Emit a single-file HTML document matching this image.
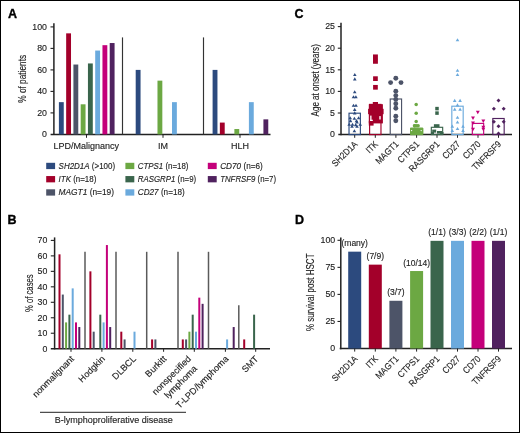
<!DOCTYPE html>
<html><head><meta charset="utf-8"><style>
html,body{margin:0;padding:0;background:#fff;}
svg{display:block;will-change:transform;}
text{font-family:"Liberation Sans", sans-serif;stroke:#1e1e1e;stroke-width:0.14px;}
</style></head><body>
<svg width="520" height="433" viewBox="0 0 520 433">
<rect x="0" y="0" width="520" height="433" fill="#fff"/>
<rect x="0.5" y="0.5" width="519" height="432" fill="none" stroke="#000" stroke-width="1"/>
<text x="7.90" y="18.30" font-size="12.5" font-weight="bold" fill="#000" style="stroke:#000;stroke-width:0.35px">A</text>
<line x1="53.90" y1="23.30" x2="53.90" y2="135.10" stroke="#222" stroke-width="1.5"/>
<line x1="50.60" y1="134.40" x2="270.50" y2="134.40" stroke="#222" stroke-width="1.5"/>
<text x="47.00" y="137.20" font-size="9.5" text-anchor="end" textLength="4.90" lengthAdjust="spacingAndGlyphs" fill="#1e1e1e">0</text>
<line x1="50.50" y1="112.90" x2="54.00" y2="112.90" stroke="#222" stroke-width="1.1"/>
<text x="47.00" y="115.70" font-size="9.5" text-anchor="end" textLength="9.80" lengthAdjust="spacingAndGlyphs" fill="#1e1e1e">20</text>
<line x1="50.50" y1="91.40" x2="54.00" y2="91.40" stroke="#222" stroke-width="1.1"/>
<text x="47.00" y="94.20" font-size="9.5" text-anchor="end" textLength="9.80" lengthAdjust="spacingAndGlyphs" fill="#1e1e1e">40</text>
<line x1="50.50" y1="69.90" x2="54.00" y2="69.90" stroke="#222" stroke-width="1.1"/>
<text x="47.00" y="72.70" font-size="9.5" text-anchor="end" textLength="9.80" lengthAdjust="spacingAndGlyphs" fill="#1e1e1e">60</text>
<line x1="50.50" y1="48.40" x2="54.00" y2="48.40" stroke="#222" stroke-width="1.1"/>
<text x="47.00" y="51.20" font-size="9.5" text-anchor="end" textLength="9.80" lengthAdjust="spacingAndGlyphs" fill="#1e1e1e">80</text>
<line x1="50.50" y1="26.90" x2="54.00" y2="26.90" stroke="#222" stroke-width="1.1"/>
<text x="47.00" y="29.70" font-size="9.5" text-anchor="end" textLength="14.70" lengthAdjust="spacingAndGlyphs" fill="#1e1e1e">100</text>
<rect x="58.90" y="102.15" width="4.85" height="32.25" fill="#2C4A7E"/>
<rect x="66.16" y="33.35" width="4.85" height="101.05" fill="#A3002A"/>
<rect x="73.42" y="64.53" width="4.85" height="69.88" fill="#4D5468"/>
<rect x="80.68" y="104.30" width="4.85" height="30.10" fill="#6CA843"/>
<rect x="87.94" y="63.45" width="4.85" height="70.95" fill="#3A654C"/>
<rect x="95.20" y="50.55" width="4.85" height="83.85" fill="#6BAADD"/>
<rect x="102.46" y="45.18" width="4.85" height="89.22" fill="#C4007A"/>
<rect x="109.72" y="43.03" width="4.85" height="91.38" fill="#50225F"/>
<rect x="135.70" y="69.90" width="4.85" height="64.50" fill="#2C4A7E"/>
<rect x="157.48" y="80.65" width="4.85" height="53.75" fill="#6CA843"/>
<rect x="172.00" y="102.15" width="4.85" height="32.25" fill="#6BAADD"/>
<rect x="212.60" y="69.90" width="4.85" height="64.50" fill="#2C4A7E"/>
<rect x="219.86" y="122.58" width="4.85" height="11.83" fill="#A3002A"/>
<rect x="234.38" y="129.03" width="4.85" height="5.38" fill="#6CA843"/>
<rect x="248.90" y="102.15" width="4.85" height="32.25" fill="#6BAADD"/>
<rect x="263.42" y="119.35" width="4.85" height="15.05" fill="#50225F"/>
<line x1="122.50" y1="37.40" x2="122.50" y2="134.40" stroke="#333" stroke-width="1.15"/>
<line x1="203.50" y1="37.40" x2="203.50" y2="134.40" stroke="#333" stroke-width="1.15"/>
<line x1="86.50" y1="134.40" x2="86.50" y2="137.80" stroke="#222" stroke-width="1"/>
<line x1="163.00" y1="134.40" x2="163.00" y2="137.80" stroke="#222" stroke-width="1"/>
<line x1="240.00" y1="134.40" x2="240.00" y2="137.80" stroke="#222" stroke-width="1"/>
<text x="86.20" y="148.90" font-size="9" text-anchor="middle" fill="#1e1e1e" >LPD/Malignancy</text>
<text x="163.00" y="148.90" font-size="9" text-anchor="middle" fill="#1e1e1e" >IM</text>
<text x="240.00" y="148.90" font-size="9" text-anchor="middle" fill="#1e1e1e" >HLH</text>
<text font-size="10.5" text-anchor="middle" textLength="47.9" lengthAdjust="spacingAndGlyphs" fill="#1e1e1e" transform="translate(25.90,78.85) rotate(-90)" x="0" y="0">% of patients</text>
<rect x="46.20" y="162.80" width="8.90" height="6.30" fill="#2C4A7E"/>
<text x="58.60" y="168.55" font-size="9" fill="#1e1e1e" textLength="56.5" lengthAdjust="spacingAndGlyphs"><tspan font-style="italic">SH2D1A</tspan> (&gt;100)</text>
<rect x="46.20" y="176.05" width="8.90" height="6.30" fill="#A3002A"/>
<text x="58.60" y="181.80" font-size="9" fill="#1e1e1e" textLength="37.7" lengthAdjust="spacingAndGlyphs"><tspan font-style="italic">ITK</tspan> (n=18)</text>
<rect x="46.20" y="189.30" width="8.90" height="6.30" fill="#4D5468"/>
<text x="58.60" y="195.05" font-size="9" fill="#1e1e1e" textLength="55.4" lengthAdjust="spacingAndGlyphs"><tspan font-style="italic">MAGT1</tspan> (n=19)</text>
<rect x="125.40" y="162.80" width="8.90" height="6.30" fill="#6CA843"/>
<text x="137.80" y="168.55" font-size="9" fill="#1e1e1e" textLength="50.7" lengthAdjust="spacingAndGlyphs"><tspan font-style="italic">CTPS1</tspan> (n=18)</text>
<rect x="125.40" y="176.05" width="8.90" height="6.30" fill="#3A654C"/>
<text x="137.80" y="181.80" font-size="9" fill="#1e1e1e" textLength="58.4" lengthAdjust="spacingAndGlyphs"><tspan font-style="italic">RASGRP1</tspan> (n=9)</text>
<rect x="125.40" y="189.30" width="8.90" height="6.30" fill="#6BAADD"/>
<text x="137.80" y="195.05" font-size="9" fill="#1e1e1e" textLength="46.9" lengthAdjust="spacingAndGlyphs"><tspan font-style="italic">CD27</tspan> (n=18)</text>
<rect x="207.80" y="162.80" width="8.90" height="6.30" fill="#C4007A"/>
<text x="220.20" y="168.55" font-size="9" fill="#1e1e1e" textLength="42.6" lengthAdjust="spacingAndGlyphs"><tspan font-style="italic">CD70</tspan> (n=6)</text>
<rect x="207.80" y="176.05" width="8.90" height="6.30" fill="#50225F"/>
<text x="220.20" y="181.80" font-size="9" fill="#1e1e1e" textLength="55.8" lengthAdjust="spacingAndGlyphs"><tspan font-style="italic">TNFRSF9</tspan> (n=7)</text>
<text x="7.60" y="224.30" font-size="12.5" font-weight="bold" fill="#000" style="stroke:#000;stroke-width:0.35px">B</text>
<line x1="54.60" y1="237.40" x2="54.60" y2="349.40" stroke="#222" stroke-width="1.5"/>
<line x1="50.80" y1="348.70" x2="270.00" y2="348.70" stroke="#222" stroke-width="1.5"/>
<text x="47.40" y="351.50" font-size="9.5" text-anchor="end" textLength="4.90" lengthAdjust="spacingAndGlyphs" fill="#1e1e1e">0</text>
<line x1="50.80" y1="333.23" x2="54.60" y2="333.23" stroke="#222" stroke-width="1.1"/>
<text x="47.40" y="336.03" font-size="9.5" text-anchor="end" textLength="9.80" lengthAdjust="spacingAndGlyphs" fill="#1e1e1e">10</text>
<line x1="50.80" y1="317.76" x2="54.60" y2="317.76" stroke="#222" stroke-width="1.1"/>
<text x="47.40" y="320.56" font-size="9.5" text-anchor="end" textLength="9.80" lengthAdjust="spacingAndGlyphs" fill="#1e1e1e">20</text>
<line x1="50.80" y1="302.29" x2="54.60" y2="302.29" stroke="#222" stroke-width="1.1"/>
<text x="47.40" y="305.09" font-size="9.5" text-anchor="end" textLength="9.80" lengthAdjust="spacingAndGlyphs" fill="#1e1e1e">30</text>
<line x1="50.80" y1="286.82" x2="54.60" y2="286.82" stroke="#222" stroke-width="1.1"/>
<text x="47.40" y="289.62" font-size="9.5" text-anchor="end" textLength="9.80" lengthAdjust="spacingAndGlyphs" fill="#1e1e1e">40</text>
<line x1="50.80" y1="271.35" x2="54.60" y2="271.35" stroke="#222" stroke-width="1.1"/>
<text x="47.40" y="274.15" font-size="9.5" text-anchor="end" textLength="9.80" lengthAdjust="spacingAndGlyphs" fill="#1e1e1e">50</text>
<line x1="50.80" y1="255.88" x2="54.60" y2="255.88" stroke="#222" stroke-width="1.1"/>
<text x="47.40" y="258.68" font-size="9.5" text-anchor="end" textLength="9.80" lengthAdjust="spacingAndGlyphs" fill="#1e1e1e">60</text>
<line x1="50.80" y1="240.41" x2="54.60" y2="240.41" stroke="#222" stroke-width="1.1"/>
<text x="47.40" y="243.21" font-size="9.5" text-anchor="end" textLength="9.80" lengthAdjust="spacingAndGlyphs" fill="#1e1e1e">70</text>
<rect x="58.50" y="254.33" width="2.00" height="94.37" fill="#A3002A"/>
<rect x="61.80" y="294.56" width="2.00" height="54.14" fill="#4D5468"/>
<rect x="65.10" y="322.40" width="2.00" height="26.30" fill="#6CA843"/>
<rect x="68.40" y="314.67" width="2.00" height="34.03" fill="#3A654C"/>
<rect x="71.70" y="288.37" width="2.00" height="60.33" fill="#6BAADD"/>
<rect x="75.00" y="322.40" width="2.00" height="26.30" fill="#C4007A"/>
<rect x="78.30" y="327.04" width="2.00" height="21.66" fill="#50225F"/>
<line x1="71.00" y1="348.70" x2="71.00" y2="351.80" stroke="#222" stroke-width="1"/>
<rect x="89.40" y="271.35" width="2.00" height="77.35" fill="#A3002A"/>
<rect x="92.70" y="331.68" width="2.00" height="17.02" fill="#4D5468"/>
<rect x="99.30" y="314.67" width="2.00" height="34.03" fill="#3A654C"/>
<rect x="102.60" y="322.40" width="2.00" height="26.30" fill="#6BAADD"/>
<rect x="105.90" y="245.05" width="2.00" height="103.65" fill="#C4007A"/>
<rect x="109.20" y="327.04" width="2.00" height="21.66" fill="#50225F"/>
<line x1="101.90" y1="348.70" x2="101.90" y2="351.80" stroke="#222" stroke-width="1"/>
<rect x="120.30" y="331.68" width="2.00" height="17.02" fill="#A3002A"/>
<rect x="123.60" y="339.42" width="2.00" height="9.28" fill="#4D5468"/>
<rect x="133.50" y="331.68" width="2.00" height="17.02" fill="#6BAADD"/>
<line x1="132.80" y1="348.70" x2="132.80" y2="351.80" stroke="#222" stroke-width="1"/>
<rect x="151.10" y="339.42" width="2.00" height="9.28" fill="#A3002A"/>
<rect x="154.40" y="339.42" width="2.00" height="9.28" fill="#4D5468"/>
<line x1="163.60" y1="348.70" x2="163.60" y2="351.80" stroke="#222" stroke-width="1"/>
<rect x="181.80" y="339.42" width="2.00" height="9.28" fill="#A3002A"/>
<rect x="185.10" y="339.42" width="2.00" height="9.28" fill="#4D5468"/>
<rect x="188.40" y="331.68" width="2.00" height="17.02" fill="#6CA843"/>
<rect x="191.70" y="314.67" width="2.00" height="34.03" fill="#3A654C"/>
<rect x="195.00" y="331.68" width="2.00" height="17.02" fill="#6BAADD"/>
<rect x="198.30" y="297.65" width="2.00" height="51.05" fill="#C4007A"/>
<rect x="201.60" y="303.84" width="2.00" height="44.86" fill="#50225F"/>
<line x1="194.30" y1="348.70" x2="194.30" y2="351.80" stroke="#222" stroke-width="1"/>
<rect x="226.10" y="339.42" width="2.00" height="9.28" fill="#6BAADD"/>
<rect x="232.70" y="327.04" width="2.00" height="21.66" fill="#50225F"/>
<line x1="225.40" y1="348.70" x2="225.40" y2="351.80" stroke="#222" stroke-width="1"/>
<rect x="243.20" y="339.42" width="2.00" height="9.28" fill="#A3002A"/>
<rect x="253.10" y="314.67" width="2.00" height="34.03" fill="#3A654C"/>
<line x1="255.70" y1="348.70" x2="255.70" y2="351.80" stroke="#222" stroke-width="1"/>
<line x1="85.00" y1="251.80" x2="85.00" y2="348.70" stroke="#5a5a5a" stroke-width="1.5"/>
<line x1="116.00" y1="251.80" x2="116.00" y2="348.70" stroke="#5a5a5a" stroke-width="1.5"/>
<line x1="146.70" y1="251.80" x2="146.70" y2="348.70" stroke="#5a5a5a" stroke-width="1.5"/>
<line x1="178.00" y1="251.80" x2="178.00" y2="348.70" stroke="#5a5a5a" stroke-width="1.5"/>
<line x1="208.50" y1="251.80" x2="208.50" y2="348.70" stroke="#5a5a5a" stroke-width="1.5"/>
<line x1="238.80" y1="305.30" x2="238.80" y2="348.70" stroke="#5a5a5a" stroke-width="1.5"/>
<text font-size="9.05" fill="#1e1e1e" text-anchor="end" transform="translate(74.60,359.50) rotate(-45)">nonmalignant</text>
<text font-size="9.05" fill="#1e1e1e" text-anchor="end" transform="translate(105.50,359.50) rotate(-45)">Hodgkin</text>
<text font-size="9.05" fill="#1e1e1e" text-anchor="end" transform="translate(136.50,359.50) rotate(-45)">DLBCL</text>
<text font-size="9.05" fill="#1e1e1e" text-anchor="end" transform="translate(167.00,359.50) rotate(-45)">Burkitt</text>
<text font-size="9.05" fill="#1e1e1e" text-anchor="end" transform="translate(191.60,359.50) rotate(-45)">nonspecified</text>
<text font-size="9.05" fill="#1e1e1e" text-anchor="end" transform="translate(197.60,369.30) rotate(-45)">lymphoma</text>
<text font-size="9.05" fill="#1e1e1e" text-anchor="end" transform="translate(229.00,359.50) rotate(-45)">T-LPD/lymphoma</text>
<text font-size="9.05" fill="#1e1e1e" text-anchor="end" transform="translate(259.00,359.50) rotate(-45)">SMT</text>
<line x1="40.00" y1="412.30" x2="186.00" y2="412.30" stroke="#222" stroke-width="1"/>
<text x="54.80" y="423.00" font-size="9" fill="#1e1e1e" >B-lymphoproliferative disease</text>
<text font-size="10.5" text-anchor="middle" textLength="37.7" lengthAdjust="spacingAndGlyphs" fill="#1e1e1e" transform="translate(32.50,293.20) rotate(-90)" x="0" y="0">% of cases</text>
<text x="294.50" y="18.40" font-size="12.5" font-weight="bold" fill="#000" style="stroke:#000;stroke-width:0.35px">C</text>
<line x1="341.00" y1="22.80" x2="341.00" y2="135.30" stroke="#222" stroke-width="1.5"/>
<line x1="338.30" y1="134.60" x2="512.00" y2="134.60" stroke="#222" stroke-width="1.5"/>
<text x="335.00" y="137.40" font-size="9.5" text-anchor="end" textLength="4.90" lengthAdjust="spacingAndGlyphs" fill="#1e1e1e">0</text>
<line x1="337.80" y1="113.00" x2="341.00" y2="113.00" stroke="#222" stroke-width="1.1"/>
<text x="335.00" y="115.80" font-size="9.5" text-anchor="end" textLength="4.90" lengthAdjust="spacingAndGlyphs" fill="#1e1e1e">5</text>
<line x1="337.80" y1="91.40" x2="341.00" y2="91.40" stroke="#222" stroke-width="1.1"/>
<text x="335.00" y="94.20" font-size="9.5" text-anchor="end" textLength="9.80" lengthAdjust="spacingAndGlyphs" fill="#1e1e1e">10</text>
<line x1="337.80" y1="69.80" x2="341.00" y2="69.80" stroke="#222" stroke-width="1.1"/>
<text x="335.00" y="72.60" font-size="9.5" text-anchor="end" textLength="9.80" lengthAdjust="spacingAndGlyphs" fill="#1e1e1e">15</text>
<line x1="337.80" y1="48.20" x2="341.00" y2="48.20" stroke="#222" stroke-width="1.1"/>
<text x="335.00" y="51.00" font-size="9.5" text-anchor="end" textLength="9.80" lengthAdjust="spacingAndGlyphs" fill="#1e1e1e">20</text>
<line x1="337.80" y1="26.60" x2="341.00" y2="26.60" stroke="#222" stroke-width="1.1"/>
<text x="335.00" y="29.40" font-size="9.5" text-anchor="end" textLength="9.80" lengthAdjust="spacingAndGlyphs" fill="#1e1e1e">25</text>
<line x1="354.70" y1="134.60" x2="354.70" y2="137.80" stroke="#222" stroke-width="1"/>
<line x1="375.30" y1="134.60" x2="375.30" y2="137.80" stroke="#222" stroke-width="1"/>
<line x1="395.90" y1="134.60" x2="395.90" y2="137.80" stroke="#222" stroke-width="1"/>
<line x1="416.60" y1="134.60" x2="416.60" y2="137.80" stroke="#222" stroke-width="1"/>
<line x1="437.00" y1="134.60" x2="437.00" y2="137.80" stroke="#222" stroke-width="1"/>
<line x1="457.50" y1="134.60" x2="457.50" y2="137.80" stroke="#222" stroke-width="1"/>
<line x1="478.00" y1="134.60" x2="478.00" y2="137.80" stroke="#222" stroke-width="1"/>
<line x1="498.50" y1="134.60" x2="498.50" y2="137.80" stroke="#222" stroke-width="1"/>
<text font-size="10.5" text-anchor="middle" textLength="72.2" lengthAdjust="spacingAndGlyphs" fill="#1e1e1e" transform="translate(319.30,80.30) rotate(-90)" x="0" y="0">Age at onset (years)</text>
<text font-size="9.2" fill="#1e1e1e" text-anchor="end" textLength="31.87" lengthAdjust="spacingAndGlyphs" transform="translate(358.00,144.80) rotate(-45)">SH2D1A</text>
<text font-size="9.2" fill="#1e1e1e" text-anchor="end" textLength="12.76" lengthAdjust="spacingAndGlyphs" transform="translate(378.60,144.80) rotate(-45)">ITK</text>
<text font-size="9.2" fill="#1e1e1e" text-anchor="end" textLength="28.23" lengthAdjust="spacingAndGlyphs" transform="translate(399.20,144.80) rotate(-45)">MAGT1</text>
<text font-size="9.2" fill="#1e1e1e" text-anchor="end" textLength="26.41" lengthAdjust="spacingAndGlyphs" transform="translate(419.90,144.80) rotate(-45)">CTPS1</text>
<text font-size="9.2" fill="#1e1e1e" text-anchor="end" textLength="39.15" lengthAdjust="spacingAndGlyphs" transform="translate(440.30,144.80) rotate(-45)">RASGRP1</text>
<text font-size="9.2" fill="#1e1e1e" text-anchor="end" textLength="20.95" lengthAdjust="spacingAndGlyphs" transform="translate(460.80,144.80) rotate(-45)">CD27</text>
<text font-size="9.2" fill="#1e1e1e" text-anchor="end" textLength="20.95" lengthAdjust="spacingAndGlyphs" transform="translate(481.30,144.80) rotate(-45)">CD70</text>
<text font-size="9.2" fill="#1e1e1e" text-anchor="end" textLength="36.86" lengthAdjust="spacingAndGlyphs" transform="translate(501.80,144.80) rotate(-45)">TNFRSF9</text>
<rect x="349.02" y="113.20" width="11.35" height="21.40" fill="none" stroke="#2C4A7E" stroke-width="1.15"/>
<rect x="369.62" y="104.40" width="11.35" height="30.20" fill="none" stroke="#A3002A" stroke-width="1.15"/>
<rect x="390.22" y="99.00" width="11.35" height="35.60" fill="none" stroke="#4D5468" stroke-width="1.15"/>
<rect x="410.93" y="128.10" width="11.35" height="6.50" fill="none" stroke="#6CA843" stroke-width="1.15"/>
<rect x="431.32" y="127.30" width="11.35" height="7.30" fill="none" stroke="#3A654C" stroke-width="1.15"/>
<rect x="451.82" y="106.20" width="11.35" height="28.40" fill="none" stroke="#6BAADD" stroke-width="1.15"/>
<rect x="472.32" y="123.40" width="11.35" height="11.20" fill="none" stroke="#C4007A" stroke-width="1.15"/>
<rect x="492.82" y="118.50" width="11.35" height="16.10" fill="none" stroke="#50225F" stroke-width="1.15"/>
<path d="M353.00,76.07L354.80,72.93L356.60,76.07Z" fill="#2C4A7E"/>
<path d="M353.00,80.47L354.80,77.33L356.60,80.47Z" fill="#2C4A7E"/>
<path d="M352.90,93.27L354.70,90.13L356.50,93.27Z" fill="#2C4A7E"/>
<path d="M351.70,98.27L353.50,95.13L355.30,98.27Z" fill="#2C4A7E"/>
<path d="M354.10,98.27L355.90,95.13L357.70,98.27Z" fill="#2C4A7E"/>
<path d="M351.70,106.77L353.50,103.63L355.30,106.77Z" fill="#2C4A7E"/>
<path d="M354.20,106.77L356.00,103.63L357.80,106.77Z" fill="#2C4A7E"/>
<path d="M352.90,110.97L354.70,107.83L356.50,110.97Z" fill="#2C4A7E"/>
<path d="M352.90,114.47L354.70,111.33L356.50,114.47Z" fill="#2C4A7E"/>
<path d="M348.40,119.27L350.20,116.13L352.00,119.27Z" fill="#2C4A7E"/>
<path d="M352.60,119.87L354.40,116.73L356.20,119.87Z" fill="#2C4A7E"/>
<path d="M356.80,119.27L358.60,116.13L360.40,119.27Z" fill="#2C4A7E"/>
<path d="M354.70,122.17L356.50,119.03L358.30,122.17Z" fill="#2C4A7E"/>
<path d="M348.70,122.17L350.50,119.03L352.30,122.17Z" fill="#2C4A7E"/>
<path d="M355.20,123.57L357.00,120.43L358.80,123.57Z" fill="#2C4A7E"/>
<path d="M347.40,125.77L349.20,122.63L351.00,125.77Z" fill="#2C4A7E"/>
<path d="M350.70,125.77L352.50,122.63L354.30,125.77Z" fill="#2C4A7E"/>
<path d="M353.90,126.17L355.70,123.03L357.50,126.17Z" fill="#2C4A7E"/>
<path d="M358.40,125.77L360.20,122.63L362.00,125.77Z" fill="#2C4A7E"/>
<path d="M350.20,127.67L352.00,124.53L353.80,127.67Z" fill="#2C4A7E"/>
<path d="M355.20,127.67L357.00,124.53L358.80,127.67Z" fill="#2C4A7E"/>
<path d="M352.60,132.27L354.40,129.13L356.20,132.27Z" fill="#2C4A7E"/>
<rect x="373.00" y="54.45" width="4.90" height="4.90" fill="#A3002A"/>
<rect x="373.00" y="58.85" width="4.90" height="4.90" fill="#A3002A"/>
<rect x="373.10" y="76.30" width="4.70" height="4.70" fill="#A3002A"/>
<rect x="373.10" y="84.95" width="4.70" height="4.70" fill="#A3002A"/>
<rect x="372.80" y="102.00" width="5.20" height="5.00" fill="#A3002A"/>
<rect x="368.80" y="104.20" width="14.10" height="19.20" fill="#A3002A"/>
<rect x="368.10" y="108.80" width="15.50" height="5.40" fill="#A3002A"/>
<rect x="368.80" y="120.80" width="4.80" height="4.80" fill="#A3002A"/>
<rect x="370.20" y="115.60" width="1.30" height="5.40" fill="#fff"/>
<rect x="370.20" y="119.70" width="2.60" height="1.30" fill="#fff"/>
<rect x="379.30" y="116.10" width="1.40" height="3.40" fill="#fff"/>
<circle cx="395.80" cy="78.20" r="2.45" fill="#4D5468"/>
<circle cx="390.60" cy="82.60" r="2.45" fill="#4D5468"/>
<circle cx="401.00" cy="82.60" r="2.45" fill="#4D5468"/>
<circle cx="395.80" cy="91.20" r="2.45" fill="#4D5468"/>
<circle cx="395.80" cy="95.60" r="2.45" fill="#4D5468"/>
<circle cx="395.80" cy="99.40" r="2.45" fill="#4D5468"/>
<circle cx="395.80" cy="103.80" r="2.45" fill="#4D5468"/>
<circle cx="395.80" cy="108.20" r="2.45" fill="#4D5468"/>
<circle cx="395.80" cy="116.30" r="2.45" fill="#4D5468"/>
<circle cx="395.80" cy="120.70" r="2.45" fill="#4D5468"/>
<circle cx="416.20" cy="104.40" r="1.75" fill="#6CA843"/>
<circle cx="416.20" cy="113.20" r="1.75" fill="#6CA843"/>
<circle cx="416.20" cy="121.40" r="1.75" fill="#6CA843"/>
<circle cx="414.50" cy="125.70" r="1.75" fill="#6CA843"/>
<circle cx="418.10" cy="125.70" r="1.75" fill="#6CA843"/>
<rect x="413.60" y="124.10" width="4.00" height="3.30" fill="#6CA843"/>
<rect x="410.00" y="128.10" width="13.40" height="6.50" fill="#6CA843"/>
<circle cx="411.60" cy="130.60" r="0.7" fill="#fff"/>
<circle cx="421.20" cy="130.60" r="0.7" fill="#fff"/>
<rect x="435.25" y="106.85" width="3.50" height="3.50" fill="#3A654C"/>
<rect x="435.25" y="111.35" width="3.50" height="3.50" fill="#3A654C"/>
<rect x="433.90" y="124.20" width="5.60" height="2.80" fill="#3A654C"/>
<rect x="432.20" y="129.60" width="4.00" height="3.00" fill="#3A654C"/>
<rect x="437.00" y="131.00" width="5.00" height="2.60" fill="#3A654C"/>
<rect x="431.00" y="132.00" width="3.00" height="2.60" fill="#3A654C"/>
<rect x="440.00" y="132.00" width="3.50" height="2.60" fill="#3A654C"/>
<path d="M455.70,41.37L457.50,38.23L459.30,41.37Z" fill="#6BAADD"/>
<path d="M455.70,71.77L457.50,68.63L459.30,71.77Z" fill="#6BAADD"/>
<path d="M455.70,76.07L457.50,72.93L459.30,76.07Z" fill="#6BAADD"/>
<path d="M452.90,101.97L454.70,98.83L456.50,101.97Z" fill="#6BAADD"/>
<path d="M458.30,101.97L460.10,98.83L461.90,101.97Z" fill="#6BAADD"/>
<path d="M455.70,106.47L457.50,103.33L459.30,106.47Z" fill="#6BAADD"/>
<path d="M452.90,110.67L454.70,107.53L456.50,110.67Z" fill="#6BAADD"/>
<path d="M458.30,110.67L460.10,107.53L461.90,110.67Z" fill="#6BAADD"/>
<path d="M455.70,118.77L457.50,115.63L459.30,118.77Z" fill="#6BAADD"/>
<path d="M455.70,123.57L457.50,120.43L459.30,123.57Z" fill="#6BAADD"/>
<path d="M450.50,127.67L452.30,124.53L454.10,127.67Z" fill="#6BAADD"/>
<path d="M461.20,127.67L463.00,124.53L464.80,127.67Z" fill="#6BAADD"/>
<path d="M455.70,130.07L457.50,126.93L459.30,130.07Z" fill="#6BAADD"/>
<path d="M450.50,132.07L452.30,128.93L454.10,132.07Z" fill="#6BAADD"/>
<path d="M461.20,132.07L463.00,128.93L464.80,132.07Z" fill="#6BAADD"/>
<path d="M475.85,110.80L477.80,114.20L479.75,110.80Z" fill="#C4007A"/>
<path d="M471.05,116.60L473.00,120.00L474.95,116.60Z" fill="#C4007A"/>
<path d="M481.35,119.50L483.30,122.90L485.25,119.50Z" fill="#C4007A"/>
<path d="M471.05,121.50L473.00,124.90L474.95,121.50Z" fill="#C4007A"/>
<path d="M471.05,127.80L473.00,131.20L474.95,127.80Z" fill="#C4007A"/>
<path d="M481.35,127.80L483.30,131.20L485.25,127.80Z" fill="#C4007A"/>
<path d="M481.35,125.80L483.30,129.20L485.25,125.80Z" fill="#C4007A"/>
<path d="M498.50,98.40L500.50,100.40L498.50,102.40L496.50,100.40Z" fill="#50225F"/>
<path d="M493.90,106.80L495.90,108.80L493.90,110.80L491.90,108.80Z" fill="#50225F"/>
<path d="M503.70,106.80L505.70,108.80L503.70,110.80L501.70,108.80Z" fill="#50225F"/>
<path d="M493.90,119.70L495.90,121.70L493.90,123.70L491.90,121.70Z" fill="#50225F"/>
<path d="M503.70,119.70L505.70,121.70L503.70,123.70L501.70,121.70Z" fill="#50225F"/>
<path d="M498.50,124.30L500.50,126.30L498.50,128.30L496.50,126.30Z" fill="#50225F"/>
<path d="M498.50,131.40L500.50,133.40L498.50,135.40L496.50,133.40Z" fill="#50225F"/>
<text x="295.00" y="224.30" font-size="12.5" font-weight="bold" fill="#000" style="stroke:#000;stroke-width:0.35px">D</text>
<line x1="340.80" y1="237.50" x2="340.80" y2="349.20" stroke="#222" stroke-width="1.5"/>
<line x1="339.70" y1="348.50" x2="512.00" y2="348.50" stroke="#222" stroke-width="1.5"/>
<text x="335.20" y="351.30" font-size="9.5" text-anchor="end" textLength="4.90" lengthAdjust="spacingAndGlyphs" fill="#1e1e1e">0</text>
<line x1="337.50" y1="321.45" x2="340.80" y2="321.45" stroke="#222" stroke-width="1.1"/>
<text x="335.20" y="324.25" font-size="9.5" text-anchor="end" textLength="9.80" lengthAdjust="spacingAndGlyphs" fill="#1e1e1e">25</text>
<line x1="337.50" y1="294.40" x2="340.80" y2="294.40" stroke="#222" stroke-width="1.1"/>
<text x="335.20" y="297.20" font-size="9.5" text-anchor="end" textLength="9.80" lengthAdjust="spacingAndGlyphs" fill="#1e1e1e">50</text>
<line x1="337.50" y1="267.35" x2="340.80" y2="267.35" stroke="#222" stroke-width="1.1"/>
<text x="335.20" y="270.15" font-size="9.5" text-anchor="end" textLength="9.80" lengthAdjust="spacingAndGlyphs" fill="#1e1e1e">75</text>
<line x1="337.50" y1="240.30" x2="340.80" y2="240.30" stroke="#222" stroke-width="1.1"/>
<text x="335.20" y="243.10" font-size="9.5" text-anchor="end" textLength="14.70" lengthAdjust="spacingAndGlyphs" fill="#1e1e1e">100</text>
<rect x="348.20" y="251.66" width="13.00" height="96.84" fill="#2C4A7E"/>
<line x1="354.70" y1="348.50" x2="354.70" y2="351.60" stroke="#222" stroke-width="1"/>
<text x="354.70" y="246.16" font-size="8.5" text-anchor="middle" fill="#1e1e1e" >(many)</text>
<text font-size="9.2" fill="#1e1e1e" text-anchor="end" textLength="31.87" lengthAdjust="spacingAndGlyphs" transform="translate(358.00,359.50) rotate(-45)">SH2D1A</text>
<rect x="368.80" y="264.64" width="13.00" height="83.86" fill="#A3002A"/>
<line x1="375.30" y1="348.50" x2="375.30" y2="351.60" stroke="#222" stroke-width="1"/>
<text x="375.30" y="259.14" font-size="8.5" text-anchor="middle" fill="#1e1e1e" >(7/9)</text>
<text font-size="9.2" fill="#1e1e1e" text-anchor="end" textLength="12.76" lengthAdjust="spacingAndGlyphs" transform="translate(378.60,359.50) rotate(-45)">ITK</text>
<rect x="389.40" y="300.78" width="13.00" height="47.72" fill="#4D5468"/>
<line x1="395.90" y1="348.50" x2="395.90" y2="351.60" stroke="#222" stroke-width="1"/>
<text x="395.90" y="295.28" font-size="8.5" text-anchor="middle" fill="#1e1e1e" >(3/7)</text>
<text font-size="9.2" fill="#1e1e1e" text-anchor="end" textLength="28.23" lengthAdjust="spacingAndGlyphs" transform="translate(399.20,359.50) rotate(-45)">MAGT1</text>
<rect x="410.10" y="271.03" width="13.00" height="77.47" fill="#6CA843"/>
<line x1="416.60" y1="348.50" x2="416.60" y2="351.60" stroke="#222" stroke-width="1"/>
<text x="416.60" y="265.53" font-size="8.5" text-anchor="middle" fill="#1e1e1e" >(10/14)</text>
<text font-size="9.2" fill="#1e1e1e" text-anchor="end" textLength="26.41" lengthAdjust="spacingAndGlyphs" transform="translate(419.90,359.50) rotate(-45)">CTPS1</text>
<rect x="430.50" y="240.84" width="13.00" height="107.66" fill="#3A654C"/>
<line x1="437.00" y1="348.50" x2="437.00" y2="351.60" stroke="#222" stroke-width="1"/>
<text x="437.00" y="235.34" font-size="8.5" text-anchor="middle" fill="#1e1e1e" >(1/1)</text>
<text font-size="9.2" fill="#1e1e1e" text-anchor="end" textLength="39.15" lengthAdjust="spacingAndGlyphs" transform="translate(440.30,359.50) rotate(-45)">RASGRP1</text>
<rect x="451.00" y="240.84" width="13.00" height="107.66" fill="#6BAADD"/>
<line x1="457.50" y1="348.50" x2="457.50" y2="351.60" stroke="#222" stroke-width="1"/>
<text x="457.50" y="235.34" font-size="8.5" text-anchor="middle" fill="#1e1e1e" >(3/3)</text>
<text font-size="9.2" fill="#1e1e1e" text-anchor="end" textLength="20.95" lengthAdjust="spacingAndGlyphs" transform="translate(460.80,359.50) rotate(-45)">CD27</text>
<rect x="471.50" y="240.84" width="13.00" height="107.66" fill="#C4007A"/>
<line x1="478.00" y1="348.50" x2="478.00" y2="351.60" stroke="#222" stroke-width="1"/>
<text x="478.00" y="235.34" font-size="8.5" text-anchor="middle" fill="#1e1e1e" >(2/2)</text>
<text font-size="9.2" fill="#1e1e1e" text-anchor="end" textLength="20.95" lengthAdjust="spacingAndGlyphs" transform="translate(481.30,359.50) rotate(-45)">CD70</text>
<rect x="492.00" y="240.84" width="13.00" height="107.66" fill="#50225F"/>
<line x1="498.50" y1="348.50" x2="498.50" y2="351.60" stroke="#222" stroke-width="1"/>
<text x="498.50" y="235.34" font-size="8.5" text-anchor="middle" fill="#1e1e1e" >(1/1)</text>
<text font-size="9.2" fill="#1e1e1e" text-anchor="end" textLength="36.86" lengthAdjust="spacingAndGlyphs" transform="translate(501.80,359.50) rotate(-45)">TNFRSF9</text>
<text font-size="10.5" text-anchor="middle" textLength="77.6" lengthAdjust="spacingAndGlyphs" fill="#1e1e1e" transform="translate(313.80,292.30) rotate(-90)" x="0" y="0">% survival post HSCT</text>
</svg>
</body></html>
